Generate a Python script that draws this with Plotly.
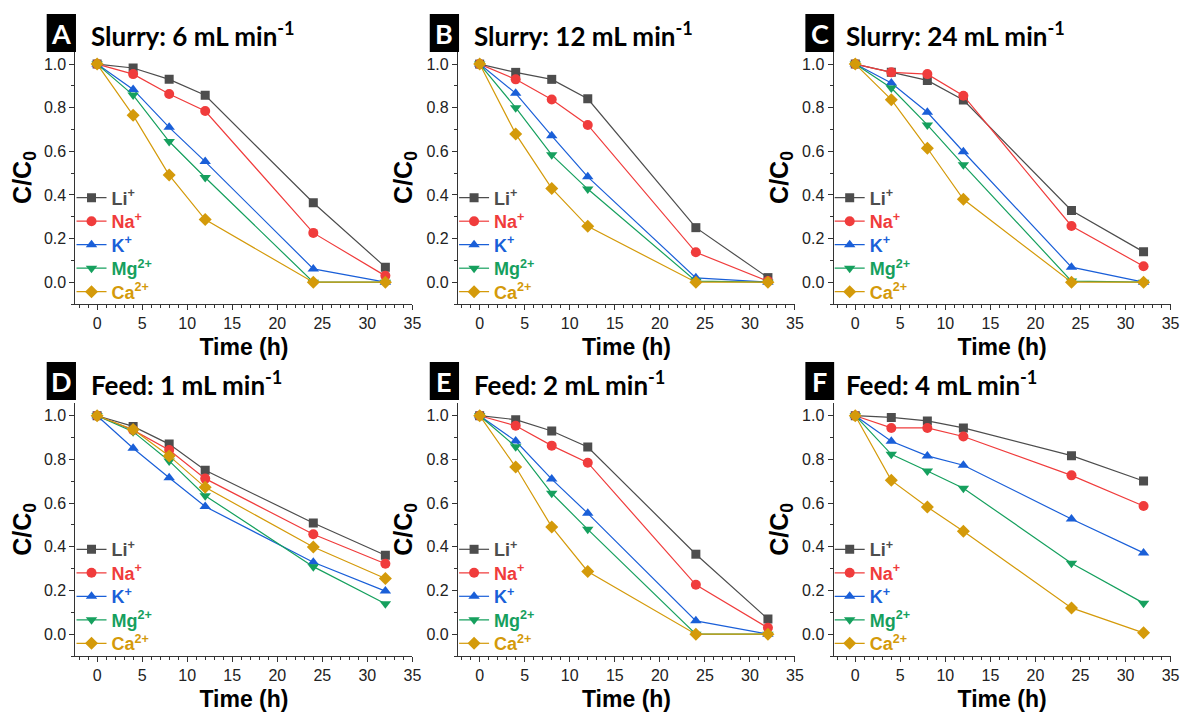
import plotly.graph_objects as go

# The page body adds an 8 px margin; coordinates below are in reference pixels
OFF = 8
W, H = 1189 - OFF, 713 - OFF

time_h = [0, 4, 8, 12, 24, 32]
ion_names = ["Li<sup>+</sup>", "Na<sup>+</sup>", "K<sup>+</sup>", "Mg<sup>2+</sup>", "Ca<sup>2+</sup>"]
ion_colors = ["#4D4D4D", "#F03C3C", "#1A5FD8", "#16A05E", "#D49A0A"]
ion_symbols = ["square", "circle", "triangle-up", "triangle-down", "diamond"]
ion_sizes = [9, 10, 10, 10, 10]

panel_letters = ["A", "B", "C", "D", "E", "F"]
panel_titles = ["Slurry: 6 mL min<sup>-1</sup>", "Slurry: 12 mL min<sup>-1</sup>",
                "Slurry: 24 mL min<sup>-1</sup>", "Feed: 1 mL min<sup>-1</sup>",
                "Feed: 2 mL min<sup>-1</sup>", "Feed: 4 mL min<sup>-1</sup>"]

# Panel A: Slurry 6 mL/min
a_li = [1.0, 0.982, 0.930, 0.857, 0.364, 0.069]
a_na = [1.0, 0.954, 0.863, 0.785, 0.226, 0.029]
a_k = [1.0, 0.884, 0.710, 0.553, 0.061, 0.0]
a_mg = [1.0, 0.858, 0.645, 0.480, 0.0, 0.0]
a_ca = [1.0, 0.765, 0.491, 0.287, 0.0, 0.0]
# Panel B: Slurry 12 mL/min
b_li = [1.0, 0.962, 0.930, 0.841, 0.250, 0.021]
b_na = [1.0, 0.930, 0.838, 0.721, 0.137, 0.005]
b_k = [1.0, 0.866, 0.671, 0.483, 0.020, 0.0]
b_mg = [1.0, 0.800, 0.584, 0.427, 0.005, 0.0]
b_ca = [1.0, 0.680, 0.430, 0.256, 0.0, 0.0]
# Panel C: Slurry 24 mL/min
c_li = [1.0, 0.962, 0.925, 0.835, 0.329, 0.139]
c_na = [1.0, 0.962, 0.954, 0.855, 0.258, 0.073]
c_k = [1.0, 0.913, 0.779, 0.598, 0.069, 0.0]
c_mg = [1.0, 0.890, 0.721, 0.538, 0.005, 0.0]
c_ca = [1.0, 0.837, 0.614, 0.380, 0.0, 0.0]
# Panel D: Feed 1 mL/min
d_li = [1.0, 0.951, 0.870, 0.750, 0.509, 0.361]
d_na = [1.0, 0.934, 0.843, 0.712, 0.457, 0.322]
d_k = [1.0, 0.851, 0.716, 0.584, 0.329, 0.197]
d_mg = [1.0, 0.927, 0.793, 0.634, 0.309, 0.139]
d_ca = [1.0, 0.937, 0.816, 0.672, 0.399, 0.255]
# Panel E: Feed 2 mL/min
e_li = [1.0, 0.982, 0.930, 0.857, 0.366, 0.069]
e_na = [1.0, 0.954, 0.863, 0.785, 0.226, 0.029]
e_k = [1.0, 0.884, 0.710, 0.553, 0.061, 0.0]
e_mg = [1.0, 0.858, 0.645, 0.480, 0.0, 0.0]
e_ca = [1.0, 0.765, 0.491, 0.287, 0.0, 0.0]
# Panel F: Feed 4 mL/min
f_li = [1.0, 0.992, 0.976, 0.944, 0.817, 0.701]
f_na = [1.0, 0.944, 0.944, 0.905, 0.727, 0.587]
f_k = [1.0, 0.883, 0.816, 0.773, 0.527, 0.372]
f_mg = [1.0, 0.823, 0.747, 0.668, 0.325, 0.142]
f_ca = [1.0, 0.704, 0.582, 0.471, 0.120, 0.006]

panels = [
    [a_li, a_na, a_k, a_mg, a_ca],
    [b_li, b_na, b_k, b_mg, b_ca],
    [c_li, c_na, c_k, c_mg, c_ca],
    [d_li, d_na, d_k, d_mg, d_ca],
    [e_li, e_na, e_k, e_mg, e_ca],
    [f_li, f_na, f_k, f_mg, f_ca],
]

x_tick_vals = [0, 5, 10, 15, 20, 25, 30, 35]
y_tick_vals = [0.0, 0.2, 0.4, 0.6, 0.8, 1.0]
y_tick_text = ["0.0", "0.2", "0.4", "0.6", "0.8", "1.0"]

# geometry in reference pixels
col_px = [(76, 415.5), (461.5, 801), (840, 1179.5)]
row_px = [(51, 304), (402.6, 656)]
title_left_px = [90, 476, 850]
box_px = [(47, 76.5), (433, 462.5), (811.5, 840.5)]
box_row_px = [(14, 52), (362, 400)]
legend_row_offsets = [147, 170.5, 194, 217.5, 241]


def px_x(v):
    return (v - OFF) / W


def px_y(v):
    return 1 - (v - OFF) / H


TICKFONT = "Liberation Sans, Arial, sans-serif"
TITLEFONT = "Lato, Open Sans, sans-serif"

fig = go.Figure()
layout = dict(width=W, height=H, margin=dict(l=0, r=0, t=0, b=0),
              paper_bgcolor="white", plot_bgcolor="white", showlegend=True)
shapes = []
annotations = []

for p in range(6):
    r, c = divmod(p, 3)
    n = "" if p == 0 else str(p + 1)
    xa, ya = "x" + n, "y" + n
    x0, x1 = col_px[c]
    y0, y1 = row_px[r]
    for i in range(5):
        k = p * 5 + i
        leg = "legend" if k == 0 else f"legend{k + 1}"
        fig.add_trace(go.Scatter(
            x=time_h, y=panels[p][i], xaxis=xa, yaxis=ya, mode="lines+markers",
            name=f"<span style='color:{ion_colors[i]}'><b>{ion_names[i]}</b></span>",
            line=dict(color=ion_colors[i], width=1.2),
            marker=dict(color=ion_colors[i], symbol=ion_symbols[i], size=ion_sizes[i]),
            legend=leg))
        layout[leg] = dict(
            x=px_x(x0 - 4), xanchor="left", y=px_y(y0 + legend_row_offsets[i]), yanchor="middle",
            bgcolor="rgba(0,0,0,0)", borderwidth=0,
            font=dict(family=TICKFONT, size=18), itemclick=False,
        )
    layout["xaxis" + n] = dict(
        domain=[px_x(x0), px_x(x1)], anchor=ya, range=[-2.4, 35],
        tickmode="array", tickvals=x_tick_vals, ticks="outside", ticklen=5, tickwidth=1.2,
        tickcolor="#333", showline=True, linecolor="#333", linewidth=1.3,
        showgrid=False, zeroline=False,
        tickfont=dict(family=TICKFONT, size=16, color="#222"),
        minor=dict(dtick=1, ticks="outside", ticklen=3, tickwidth=1, tickcolor="#333", showgrid=False),
        title=dict(text="<b>Time (h)</b>", font=dict(family=TICKFONT, size=23, color="black"), standoff=7),
    )
    layout["yaxis" + n] = dict(
        domain=[px_y(y1), px_y(y0)], anchor=xa, range=[-0.1, 1.06],
        tickmode="array", tickvals=y_tick_vals, ticktext=y_tick_text, ticks="outside", ticklen=5,
        tickwidth=1.2, tickcolor="#333", showline=True, linecolor="#333", linewidth=1.3,
        showgrid=False, zeroline=False,
        tickfont=dict(family=TICKFONT, size=16, color="#222"),
        minor=dict(dtick=0.1, ticks="outside", ticklen=3, tickwidth=1, tickcolor="#333", showgrid=False),
        title=dict(text="<b>C/C<sub>0</sub></b>", font=dict(family=TICKFONT, size=25, color="black"), standoff=6),
    )
    bx0, bx1 = box_px[c]
    by0, by1 = box_row_px[r]
    shapes.append(dict(type="rect", xref="paper", yref="paper",
                       x0=px_x(bx0), x1=px_x(bx1), y0=px_y(by1), y1=px_y(by0),
                       fillcolor="black", line=dict(width=0)))
    annotations.append(dict(xref="paper", yref="paper", x=px_x((bx0 + bx1) / 2), y=px_y((by0 + by1) / 2),
                            text=f"<b>{panel_letters[p]}</b>", showarrow=False,
                            xanchor="center", yanchor="middle",
                            font=dict(family=TITLEFONT, size=27, color="white")))
    annotations.append(dict(xref="paper", yref="paper", x=px_x(title_left_px[c]), y=px_y(by0 + 21),
                            text=f"<b>{panel_titles[p]}</b>", showarrow=False,
                            xanchor="left", yanchor="middle",
                            font=dict(family=TITLEFONT, size=26, color="black")))

layout["shapes"] = shapes
layout["annotations"] = annotations
fig.update_layout(**layout)
fig.write_html("out.html")
